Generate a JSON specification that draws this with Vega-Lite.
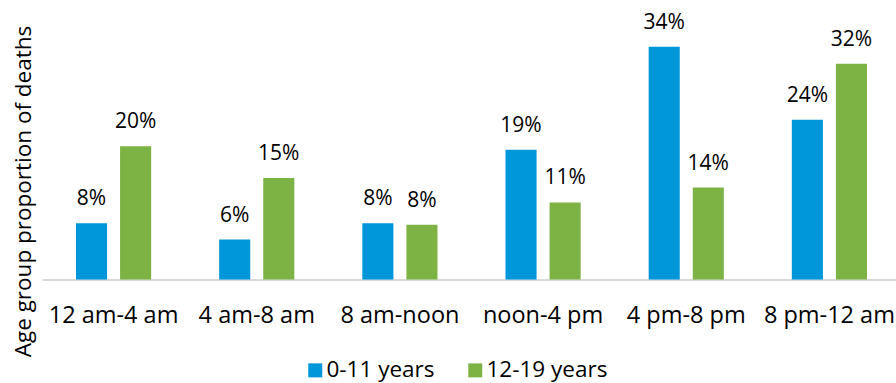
{
  "$schema": "https://vega.github.io/schema/vega-lite/v6.json",
  "autosize": {"type": "none"},
  "padding": {"left": 42, "top": 36, "right": 0, "bottom": 103.5},
  "width": 854,
  "height": 243.5,
  "background": "white",
  "config": {
    "view": {"stroke": null},
    "font": "Open Sans",
    "text": {"font": "Open Sans"},
    "axis": {"labelFont": "Open Sans", "titleFont": "Open Sans", "labelColor": "#000000", "titleColor": "#000000"},
    "legend": {"labelFont": "Open Sans"}
  },
  "data": {
    "values": [
      {"period": "12 am-4 am", "age": "0-11 years", "share": 0.083},
      {"period": "12 am-4 am", "age": "12-19 years", "share": 0.197},
      {"period": "4 am-8 am", "age": "0-11 years", "share": 0.059},
      {"period": "4 am-8 am", "age": "12-19 years", "share": 0.150},
      {"period": "8 am-noon", "age": "0-11 years", "share": 0.083},
      {"period": "8 am-noon", "age": "12-19 years", "share": 0.081},
      {"period": "noon-4 pm", "age": "0-11 years", "share": 0.192},
      {"period": "noon-4 pm", "age": "12-19 years", "share": 0.114},
      {"period": "4 pm-8 pm", "age": "0-11 years", "share": 0.344},
      {"period": "4 pm-8 pm", "age": "12-19 years", "share": 0.136},
      {"period": "8 pm-12 am", "age": "0-11 years", "share": 0.236},
      {"period": "8 pm-12 am", "age": "12-19 years", "share": 0.319}
    ]
  },
  "encoding": {
    "x": {
      "field": "period",
      "type": "nominal",
      "sort": null,
      "scale": {"range": [0, 859], "paddingInner": 0.475, "paddingOuter": 0.2375},
      "axis": {
        "title": null,
        "labelAngle": 0,
        "labelFontSize": 23.5,
        "labelPadding": 24,
        "ticks": false,
        "domain": true,
        "domainColor": "#d9d9d9",
        "domainWidth": 2,
        "grid": false
      }
    },
    "xOffset": {
      "field": "age",
      "type": "nominal",
      "scale": {"paddingInner": 0.295, "paddingOuter": 0}
    },
    "y": {
      "field": "share",
      "type": "quantitative",
      "scale": {"domain": [0, 0.36], "nice": false},
      "axis": {
        "title": "Age group proportion of deaths",
        "titleFontSize": 22.5,
        "titleFontWeight": "normal",
        "titleX": -7,
        "titleY": 155,
        "labels": false,
        "ticks": false,
        "domain": false,
        "grid": false
      }
    }
  },
  "layer": [
    {
      "mark": {"type": "bar"},
      "encoding": {
        "color": {
          "field": "age",
          "type": "nominal",
          "scale": {"domain": ["0-11 years", "12-19 years"], "range": ["#0096DA", "#7DB244"]},
          "legend": {
            "title": null,
            "orient": "none",
            "direction": "horizontal",
            "legendX": 262,
            "legendY": 323,
            "padding": 0,
            "symbolType": "square",
            "symbolSize": 196,
            "symbolStrokeWidth": 0,
            "labelFontSize": 22.5,
            "labelColor": "#000000",
            "labelOffset": 0,
            "columnPadding": 29
          }
        }
      }
    },
    {
      "mark": {"type": "text", "baseline": "alphabetic", "dy": -18, "fontSize": 21, "color": "#000000"},
      "encoding": {
        "text": {"field": "share", "type": "quantitative", "format": ".0%"}
      }
    }
  ]
}
